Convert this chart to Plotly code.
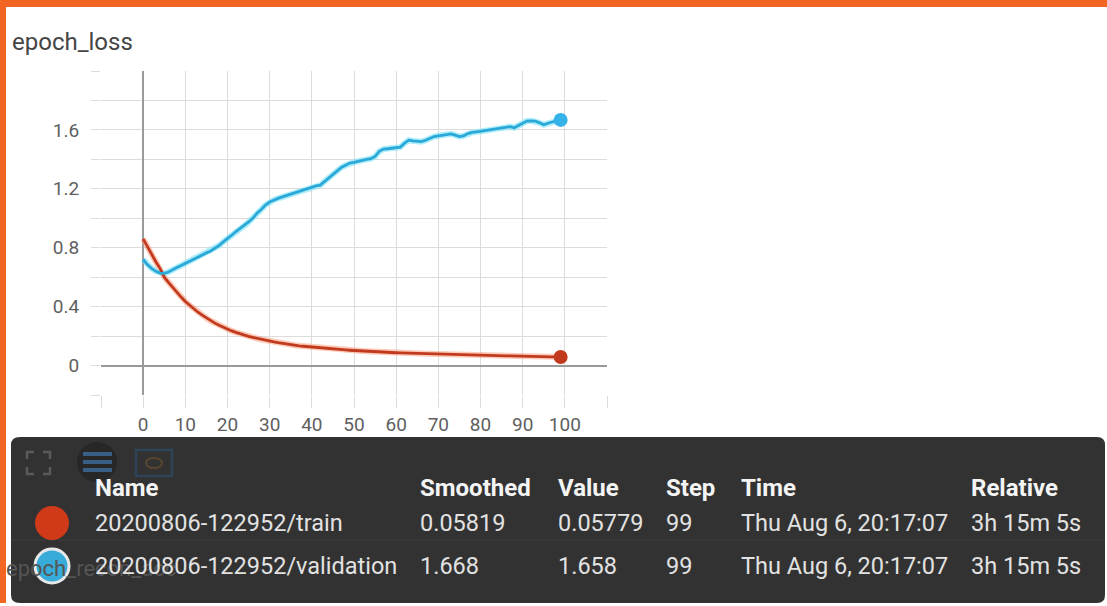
import plotly.graph_objects as go

# ---------------- data ----------------
steps = list(range(100))

train_loss = [
    0.860, 0.805, 0.755, 0.705, 0.660, 0.600, 0.565, 0.530, 0.500, 0.465,
    0.435, 0.410, 0.385, 0.362, 0.342, 0.322, 0.304, 0.288, 0.273, 0.259,
    0.246, 0.235, 0.225, 0.215, 0.206, 0.198, 0.191, 0.184, 0.177, 0.171,
    0.165, 0.160, 0.155, 0.150, 0.146, 0.142, 0.138, 0.134, 0.131, 0.128,
    0.125, 0.122, 0.119, 0.117, 0.114, 0.112, 0.110, 0.108, 0.106, 0.104,
    0.102, 0.100, 0.098, 0.097, 0.095, 0.094, 0.092, 0.091, 0.090, 0.088,
    0.087, 0.086, 0.085, 0.084, 0.083, 0.082, 0.081, 0.080, 0.079, 0.078,
    0.077, 0.076, 0.075, 0.074, 0.074, 0.073, 0.072, 0.071, 0.071, 0.070,
    0.069, 0.068, 0.068, 0.067, 0.066, 0.066, 0.065, 0.065, 0.064, 0.063,
    0.063, 0.062, 0.062, 0.061, 0.061, 0.060, 0.060, 0.059, 0.059, 0.05819,
]

val_loss = [
    0.720, 0.685, 0.660, 0.640, 0.628, 0.626, 0.635, 0.648, 0.665, 0.680,
    0.695, 0.710, 0.725, 0.740, 0.752, 0.765, 0.778, 0.795, 0.815, 0.840,
    0.860, 0.885, 0.910, 0.930, 0.950, 0.975, 1.000, 1.035, 1.060, 1.090,
    1.110, 1.125, 1.135, 1.145, 1.155, 1.165, 1.175, 1.185, 1.195, 1.205,
    1.210, 1.220, 1.225, 1.250, 1.275, 1.300, 1.320, 1.345, 1.360, 1.375,
    1.380, 1.388, 1.393, 1.400, 1.405, 1.420, 1.455, 1.470, 1.472, 1.475,
    1.480, 1.483, 1.510, 1.530, 1.525, 1.520, 1.520, 1.530, 1.545, 1.555,
    1.560, 1.565, 1.572, 1.573, 1.565, 1.555, 1.560, 1.575, 1.583, 1.585,
    1.590, 1.595, 1.600, 1.603, 1.607, 1.610, 1.620, 1.622, 1.615, 1.630,
    1.645, 1.660, 1.662, 1.660, 1.648, 1.635, 1.645, 1.655, 1.662, 1.668,
]

x_tickvals = [-10, 0, 10, 20, 30, 40, 50, 60, 70, 80, 90, 100, 110]
x_ticktext = ["", "0", "10", "20", "30", "40", "50", "60", "70", "80", "90", "100", ""]
y_tickvals = [-0.2, 0, 0.2, 0.4, 0.6, 0.8, 1.0, 1.2, 1.4, 1.6, 1.8, 2.0]
y_ticktext = ["", "0", "", "0.4", "", "0.8", "", "1.2", "", "1.6", "", ""]

chart_title = "epoch_loss"
next_title = "epoch_recon_acc"
headers = ["Name", "Smoothed", "Value", "Step", "Time", "Relative"]
row_train = ["20200806-122952/train", "0.05819", "0.05779", "99", "Thu Aug 6, 20:17:07", "3h 15m 5s"]
row_val = ["20200806-122952/validation", "1.668", "1.658", "99", "Thu Aug 6, 20:17:07", "3h 15m 5s"]

# ---------------- styling ----------------
W, H = 1107, 606
L, R, T, B = 101, 607, 71, 395  # plot area in pixels

def px(x):
    return (x - L) / (R - L)

def py(y):
    return (B - y) / (B - T)

RED = "#c13a1e"
RED_LIGHT = "rgba(250,160,130,0.55)"
BLUE = "#2aa8d8"
BLUE_LIGHT = "rgba(120,225,245,0.6)"
FONT = "Roboto, Arial, sans-serif"

fig = go.Figure()
# faded halos
fig.add_trace(go.Scatter(x=steps, y=train_loss, mode="lines",
                         line=dict(color=RED_LIGHT, width=6), hoverinfo="skip"))
fig.add_trace(go.Scatter(x=steps, y=val_loss, mode="lines",
                         line=dict(color=BLUE_LIGHT, width=6), hoverinfo="skip"))
fig.add_trace(go.Scatter(x=steps, y=train_loss, mode="lines",
                         line=dict(color=RED, width=2.8)))
fig.add_trace(go.Scatter(x=steps, y=val_loss, mode="lines",
                         line=dict(color=BLUE, width=2.8)))
# end markers
fig.add_trace(go.Scatter(x=[steps[-1]], y=[train_loss[-1]], mode="markers",
                         marker=dict(color=RED, size=14)))
fig.add_trace(go.Scatter(x=[steps[-1]], y=[val_loss[-1]], mode="markers",
                         marker=dict(color="#35b3e8", size=14)))

shapes = []
# orange border bands
shapes.append(dict(type="rect", xref="paper", yref="paper", x0=px(0), x1=px(W), y0=py(0), y1=py(7),
                   fillcolor="#f26522", line=dict(width=0), layer="below"))
shapes.append(dict(type="rect", xref="paper", yref="paper", x0=px(0), x1=px(6), y0=py(0), y1=py(603),
                   fillcolor="#f26522", line=dict(width=0), layer="below"))
# tooltip box
shapes.append(dict(type="path", xref="paper", yref="paper",
                   path=(f"M {px(20)} {py(437)} L {px(1097)} {py(437)} Q {px(1105)} {py(437)} {px(1105)} {py(445)} "
                         f"L {px(1105)} {py(595)} Q {px(1105)} {py(603)} {px(1097)} {py(603)} "
                         f"L {px(20)} {py(603)} Q {px(11)} {py(603)} {px(11)} {py(595)} "
                         f"L {px(11)} {py(445)} Q {px(11)} {py(437)} {px(20)} {py(437)} Z"),
                   fillcolor="#323232", line=dict(width=0), layer="above"))
# faint row separator
shapes.append(dict(type="line", xref="paper", yref="paper", x0=px(11), x1=px(1105), y0=py(540), y1=py(540),
                   line=dict(color="#3c3c3c", width=1), layer="above"))
# icon 1: fullscreen corners
ic = "#5a5a5a"
for (xa, ya, dx, dy) in [(27, 452, 1, 1), (50, 452, -1, 1), (27, 474, 1, -1), (50, 474, -1, -1)]:
    shapes.append(dict(type="path", xref="paper", yref="paper",
                       path=f"M {px(xa)} {py(ya + 7*dy)} L {px(xa)} {py(ya)} L {px(xa + 7*dx)} {py(ya)}",
                       line=dict(color=ic, width=2.5), layer="above"))
# icon 2: list with circular background
shapes.append(dict(type="circle", xref="paper", yref="paper", x0=px(77), x1=px(117), y0=py(442), y1=py(482),
                   fillcolor="#272727", line=dict(width=0), layer="above"))
for yy in [454, 462, 470]:
    shapes.append(dict(type="line", xref="paper", yref="paper", x0=px(83), x1=px(112), y0=py(yy), y1=py(yy),
                       line=dict(color="#3a5f85", width=4), layer="above"))
# icon 3: fit-domain box
shapes.append(dict(type="rect", xref="paper", yref="paper", x0=px(136), x1=px(172), y0=py(450), y1=py(476),
                   line=dict(color="#2c4358", width=2.5), fillcolor="rgba(0,0,0,0)", layer="above"))
shapes.append(dict(type="circle", xref="paper", yref="paper", x0=px(146), x1=px(162), y0=py(458), y1=py(468),
                   line=dict(color="#5a4630", width=2), fillcolor="rgba(0,0,0,0)", layer="above"))
# legend circles
shapes.append(dict(type="circle", xref="paper", yref="paper", x0=px(35), x1=px(69), y0=py(506), y1=py(540),
                   fillcolor="#d03a18", line=dict(width=0), layer="above"))
shapes.append(dict(type="circle", xref="paper", yref="paper", x0=px(35), x1=px(69), y0=py(549), y1=py(583),
                   fillcolor="#38acd9", line=dict(color="#e8e8e8", width=3), layer="above"))

annotations = []
annotations.append(dict(text=chart_title, x=px(10), y=py(42), xref="paper", yref="paper",
                        xanchor="left", yanchor="middle", showarrow=False,
                        font=dict(family=FONT, size=24, color="#454545")))
annotations.append(dict(text=next_title, x=px(4), y=py(568), xref="paper", yref="paper",
                        xanchor="left", yanchor="middle", showarrow=False,
                        font=dict(family=FONT, size=22, color="#555555")))
col_x = [93, 418, 556, 664, 739, 969]
for cx, h in zip(col_x, headers):
    annotations.append(dict(text=f"<b>{h}</b>", x=px(cx), y=py(488), xref="paper", yref="paper",
                            xanchor="left", yanchor="middle", showarrow=False,
                            font=dict(family=FONT, size=24, color="#f4f4f4")))
for cx, t in zip(col_x, row_train):
    annotations.append(dict(text=t, x=px(cx), y=py(523), xref="paper", yref="paper",
                            xanchor="left", yanchor="middle", showarrow=False,
                            font=dict(family=FONT, size=23.5, color="#e2e2e2")))
for cx, t in zip(col_x, row_val):
    annotations.append(dict(text=t, x=px(cx), y=py(566), xref="paper", yref="paper",
                            xanchor="left", yanchor="middle", showarrow=False,
                            font=dict(family=FONT, size=23.5, color="#e2e2e2")))

fig.update_layout(
    width=W, height=H,
    margin=dict(l=L, r=W - R, t=T, b=H - B, pad=0),
    paper_bgcolor="white", plot_bgcolor="white",
    showlegend=False,
    shapes=shapes, annotations=annotations,
    font=dict(family=FONT, size=19, color="#5f5f5f"),
)
fig.update_xaxes(range=[-10, 110], tickvals=x_tickvals, ticktext=x_ticktext,
                 showgrid=True, gridcolor="#dcdcdc", gridwidth=1,
                 zeroline=True, zerolinecolor="#9a9a9a", zerolinewidth=2,
                 ticks="outside", ticklen=12, tickcolor="#dcdcdc", tickwidth=1,
                 showline=False, tickfont=dict(size=19, color="#5f5f5f"))
fig.update_yaxes(range=[-0.2, 2.0], tickvals=y_tickvals, ticktext=y_ticktext,
                 showgrid=True, gridcolor="#dcdcdc", gridwidth=1,
                 zeroline=True, zerolinecolor="#9a9a9a", zerolinewidth=2,
                 ticks="outside", ticklen=9, tickcolor="#dcdcdc", tickwidth=1,
                 showline=False, ticklabelstandoff=8, tickfont=dict(size=19, color="#5f5f5f"))

fig.write_html("out.html", config={"displayModeBar": False},
               post_script="document.body.style.margin='0';document.body.style.overflow='hidden';")
